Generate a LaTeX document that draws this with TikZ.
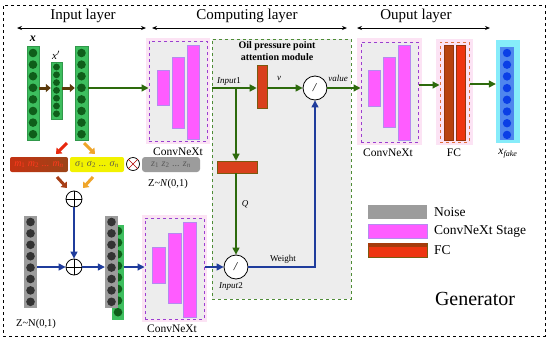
\documentclass[tikz,border=0pt]{standalone}
\usepackage{fontspec}
\setmainfont{Liberation Serif}
\usetikzlibrary{arrows.meta}

\definecolor{dgreen}{HTML}{2D6A0C}
\definecolor{navy}{HTML}{1F3C9C}
\definecolor{colgreen}{HTML}{3DBE5E}
\definecolor{dotgreen}{HTML}{0F5E1A}
\definecolor{colgray}{HTML}{9C9C9C}
\definecolor{dotgray}{HTML}{333333}
\definecolor{mag}{HTML}{FF5CFF}
\definecolor{magedge}{HTML}{B58AF0}
\definecolor{purp}{HTML}{9A3FD0}
\definecolor{boxgray}{HTML}{EDEDED}
\definecolor{halo}{HTML}{FCE3F4}
\definecolor{modgreen}{HTML}{4E8C36}
\definecolor{fcbrown}{HTML}{B8420E}
\definecolor{fcred}{HTML}{EE3510}
\definecolor{fcedge}{HTML}{E0703A}
\definecolor{cyanbg}{HTML}{86ECFA}
\definecolor{bluecol}{HTML}{4F86EE}
\definecolor{bluedot}{HTML}{0B3FE6}
\definecolor{sigyellow}{HTML}{F2F200}
\definecolor{barred}{HTML}{D9401C}
\definecolor{baredge}{HTML}{7A5A10}
\definecolor{fatcol}{HTML}{5B3A0B}
\definecolor{arrred}{HTML}{E8280E}
\definecolor{arrorange}{HTML}{EFA52A}
\definecolor{arrbrown}{HTML}{A83E16}
\definecolor{mleft}{HTML}{C43212}
\definecolor{mright}{HTML}{9C4418}
\definecolor{mtext}{HTML}{FF3A1E}

\newcommand\rn[6]{\node[#6, inner sep=0pt, minimum width={#4-(#2)}, minimum height={#5-(#3)}] (#1) at ({(#2+#4)/2},{(#3+#5)/2}) {};}

\begin{document}
\begin{tikzpicture}[x=1pt,y=-1pt,
  garrow/.style={draw=dgreen, line width=1.3pt, -{Triangle[length=7pt,width=7pt]}},
  barrow/.style={draw=navy, line width=1.1pt, -{Triangle[length=7pt,width=7pt]}},
  harrow/.style={line width=0.9pt, {Stealth[length=5pt,width=4pt]}-{Stealth[length=5pt,width=4pt]}},
  fatarrow/.style={line width=3pt, -{Triangle[length=5pt,width=8pt]}},
  magbar/.style={fill=mag, draw=magedge, line width=0.8pt},
  cnx/.style={fill=boxgray, draw=purp, dashed, line width=1pt},
  lab/.style={font=\fontsize{11.5}{13}\selectfont, inner sep=0pt},
  small/.style={font=\fontsize{9}{11}\selectfont, inner sep=0pt},
  bartext/.style={font=\fontsize{10}{11}\selectfont, inner sep=0pt},
  head/.style={font=\fontsize{15}{17}\selectfont, inner sep=0pt},
  opnode/.style={circle, draw, fill=white, inner sep=0pt, line width=0.8pt},
  legtext/.style={font=\fontsize{13.5}{15}\selectfont, inner sep=0pt, anchor=west}
]
\useasboundingbox (0,0) rectangle (550,346);
\fill[white] (0,0) rectangle (550,346);

% outer frame
\rn{frame}{3}{5}{545}{336}{draw, dashed, line width=0.8pt}

% headers
\node[head] (tin) at (83,16) {Input layer};
\node[head] (tcomp) at (247,16) {Computing layer};
\node[head] (tout) at (416,16) {Ouput layer};
\coordinate (ia) at (17,28); \coordinate (ib) at (146,28);
\coordinate (ca) at (152,28); \coordinate (cb) at (347,28);
\coordinate (oa) at (357,28); \coordinate (ob) at (490,28);
\draw[harrow] (ia) -- (ib);
\draw[harrow] (ca) -- (cb);
\draw[harrow] (oa) -- (ob);

% module box (background)
\rn{mod}{212}{39}{351}{299}{fill=boxgray, draw=modgreen, dashed, line width=1pt}
\node[font=\bfseries\fontsize{10}{12}\selectfont, align=center, inner sep=0pt] (mt) at (277,51) {Oil pressure point\\attention module};

% input columns
\rn{c1}{27}{46}{39}{140}{fill=colgreen, draw=colgreen!80!black}
\foreach \i in {0,...,7} \fill[dotgreen] (33,{53+\i*11.6}) circle (4.3pt);
\rn{c2}{51}{62}{62}{119}{fill=colgreen, draw=colgreen!80!black}
\foreach \i in {0,...,6} \fill[dotgreen] (56.5,{67+\i*7.8}) circle (3.4pt);
\rn{c3}{75}{46}{88}{140}{fill=colgreen, draw=colgreen!80!black}
\foreach \i in {0,...,7} \fill[dotgreen] (81.5,{53+\i*11.6}) circle (4.3pt);
\node[font=\bfseries\itshape\fontsize{12}{14}\selectfont, inner sep=0pt] (lx) at (33,39) {x};
\node[font=\itshape\fontsize{11}{13}\selectfont, inner sep=0pt] (lx2) at (56,55) {x$'$};

\draw[fatarrow, fatcol] (c1.east |- 0,88) -- (c2.west |- 0,88);
\draw[fatarrow, fatcol] (c2.east |- 0,88) -- (c3.west |- 0,88);

% ConvNeXt 1
\fill[halo] (146,38) rectangle (210,144);
\rn{cnx1}{149}{41}{207}{141}{cnx}
\rn{m11}{157}{70}{169}{105}{magbar}
\rn{m12}{172}{57}{184}{128}{magbar}
\rn{m13}{187}{45}{199}{139}{magbar}
\node[lab] (l1) at (178,152) {ConvNeXt};
\draw[garrow] (c3.east |- 0,88) -- (cnx1.west |- 0,88);

% distribution bars
\rn{mbar}{10}{157}{68}{172}{rounded corners=2pt, left color=mleft, right color=mright}
\node[bartext, text=mtext] (mtxt) at (mbar) {\textit{m}\textsubscript{1} \textit{m}\textsubscript{2} ... \textit{m}\textsubscript{\textit{n}}};
\rn{sbar}{70}{157}{124}{172}{rounded corners=2pt, fill=sigyellow}
\node[bartext, text=black!70!yellow] (stxt) at (sbar) {\textit{σ}\textsubscript{1} \textit{σ}\textsubscript{2} ... \textit{σ}\textsubscript{\textit{n}}};
\node[opnode, minimum size=13pt, line width=0.7pt] (ot) at (133,164) {};
\draw[red!70!black, line width=0.7pt] (ot.north east) -- (ot.south west) (ot.north west) -- (ot.south east);
\rn{zbar}{142}{157}{200}{172}{rounded corners=3pt, fill=colgray}
\node[bartext, text=black!65] (ztxt) at (zbar) {\textit{z}\textsubscript{1} \textit{z}\textsubscript{2} ... \textit{z}\textsubscript{\textit{n}}};
\node[lab, font=\fontsize{10.5}{12}\selectfont] (zl1) at (168,184) {Z\textasciitilde\textit{N}(0,1)};

% diagonal arrows
\coordinate (ra1) at (67,143); \coordinate (ra2) at (56,154);
\coordinate (oa1) at (84,143); \coordinate (oa2) at (95,154);
\coordinate (rb1) at (57,177); \coordinate (rb2) at (67,188);
\coordinate (ob1) at (93,177); \coordinate (ob2) at (83,188);
\draw[fatarrow, arrred] (ra1) -- (ra2);
\draw[fatarrow, arrorange] (oa1) -- (oa2);
\draw[fatarrow, arrbrown] (rb1) -- (rb2);
\draw[fatarrow, arrorange] (ob1) -- (ob2);

% plus nodes
\node[opnode, minimum size=16pt] (op1) at (74,199) {};
\draw[line width=0.8pt] (op1.north) -- (op1.south) (op1.west) -- (op1.east);
\node[opnode, minimum size=16pt] (op2) at (74,267) {};
\draw[line width=0.8pt] (op2.north) -- (op2.south) (op2.west) -- (op2.east);
\draw[barrow] (op1.south) -- (op2.north);

% noise column
\rn{gA}{24}{216}{37}{308}{fill=colgray}
\foreach \i in {0,...,7} \fill[dotgray] (30.5,{222+\i*11.4}) circle (4.3pt);
\node[lab, font=\fontsize{10.5}{12}\selectfont] (zl2) at (36,324) {Z\textasciitilde N(0,1)};
\draw[barrow] (gA.east |- op2) -- (op2.west);

% combined column
\rn{gC}{112}{225}{124}{320}{fill=colgreen}
\foreach \i in {0,...,7} \fill[dotgreen] (118,{231+\i*11.6}) circle (4.3pt);
\rn{gB}{105}{216}{118}{308}{fill=colgray}
\foreach \i in {0,...,7} \fill[dotgray] (111.5,{222+\i*11.4}) circle (4.3pt);
\draw[barrow] (op2.east) -- (gB.west |- op2);

% ConvNeXt 2
\fill[halo] (142,215) rectangle (207,322);
\rn{cnx2}{145}{218}{204}{319}{cnx}
\rn{m21}{152}{247}{165}{283}{magbar}
\rn{m22}{168}{233}{181}{303}{magbar}
\rn{m23}{183}{222}{196}{317}{magbar}
\node[lab] (l2) at (172,329) {ConvNeXt};
\draw[barrow] (gC.east |- op2) -- (cnx2.west |- op2);

% attention module internals
\rn{rv}{257}{65}{267}{108}{fill=barred, draw=baredge, line width=0.6pt}
\node[opnode, minimum size=24pt] (d1) at (315,88) {\fontsize{12}{12}\selectfont\textit{/}};
\draw[garrow] (mod.west |- 0,88) -- (rv.west |- 0,88);
\draw[garrow] (rv.east |- 0,88) -- (d1.west);
\node[small, anchor=center] (tin1) at (229,81) {\textit{Input}1};
\node[small] (tv) at (279,78) {\textit{v}};
\node[small] (tval) at (338,78) {\textit{value}};

\rn{rh}{217}{161}{257}{173}{fill=barred, draw=baredge, line width=0.6pt}
\coordinate (br) at (236,88);
\draw[garrow] (br) -- (br |- rh.north);
\node[opnode, minimum size=24pt] (d2) at (236,267) {\fontsize{12}{12}\selectfont\textit{/}};
\draw[garrow] (rh.south -| d2) -- (d2.north);
\node[small] (tq) at (245,204) {\textit{Q}};
\draw[barrow] (cnx2.east |- d2) -- (d2.west);
\draw[line width=1.1pt, navy, -{Triangle[length=7pt,width=7pt]}] (d2.east) -| (d1.south);
\node[small] (tw) at (283,259) {Weight};
\node[small] (tin2) at (231,286) {\textit{Input}2};

% ConvNeXt 3
\fill[halo] (357,38) rectangle (422,145);
\rn{cnx3}{361}{42}{418}{142}{cnx}
\rn{m31}{368}{70}{380}{106}{magbar}
\rn{m32}{383}{57}{395}{127}{magbar}
\rn{m33}{398}{45}{410}{140}{magbar}
\node[lab] (l3) at (388,153) {ConvNeXt};
\draw[garrow] (d1.east) -- (cnx3.west |- d1);

% FC
\fill[halo] (436,39) rectangle (473,145);
\rn{fc}{440}{42}{469}{142}{fill=halo, draw=fcedge, dashed, line width=1pt}
\rn{fc1}{444}{45}{453}{140}{fill=fcbrown, draw=fcbrown!80!black, line width=0.5pt}
\rn{fc2}{456}{45}{465}{140}{fill=fcred, draw=fcbrown!80!black, line width=0.5pt}
\node[lab] (l4) at (454,153) {FC};
\draw[garrow] (cnx3.east |- 0,85) -- (fc.west |- 0,85);

% x fake
\rn{xf}{496}{40}{520}{143}{fill=cyanbg}
\rn{xfi}{500}{47}{514}{140}{fill=bluecol}
\foreach \i in {0,...,7} \fill[bluedot] (507,{53+\i*11.7}) circle (4.2pt);
\node[lab] (l5) at (508,154) {\textit{x}\textsubscript{\textit{fake}}};
\draw[garrow] (fc.east |- 0,84) -- (xf.west |- 0,84);

% legend
\rn{lg1}{368}{205}{427}{219}{fill=colgray}
\rn{lg2}{368}{224}{427}{238}{fill=mag, draw=magedge, line width=0.6pt}
\rn{lg3}{368}{243}{427}{257}{fill=fcred, draw=baredge, line width=0.6pt}
\fill[fcbrown!90!black] (lg3.north west) rectangle ([yshift=-4pt]lg3.north east);
\node[legtext] (lt1) at (434,212) {Noise};
\node[legtext] (lt2) at (434,231) {ConvNeXt Stage};
\node[legtext] (lt3) at (434,250) {FC};
\node[font=\fontsize{20}{22}\selectfont, inner sep=0pt] (gen) at (475,299) {Generator};
\end{tikzpicture}
\end{document}
